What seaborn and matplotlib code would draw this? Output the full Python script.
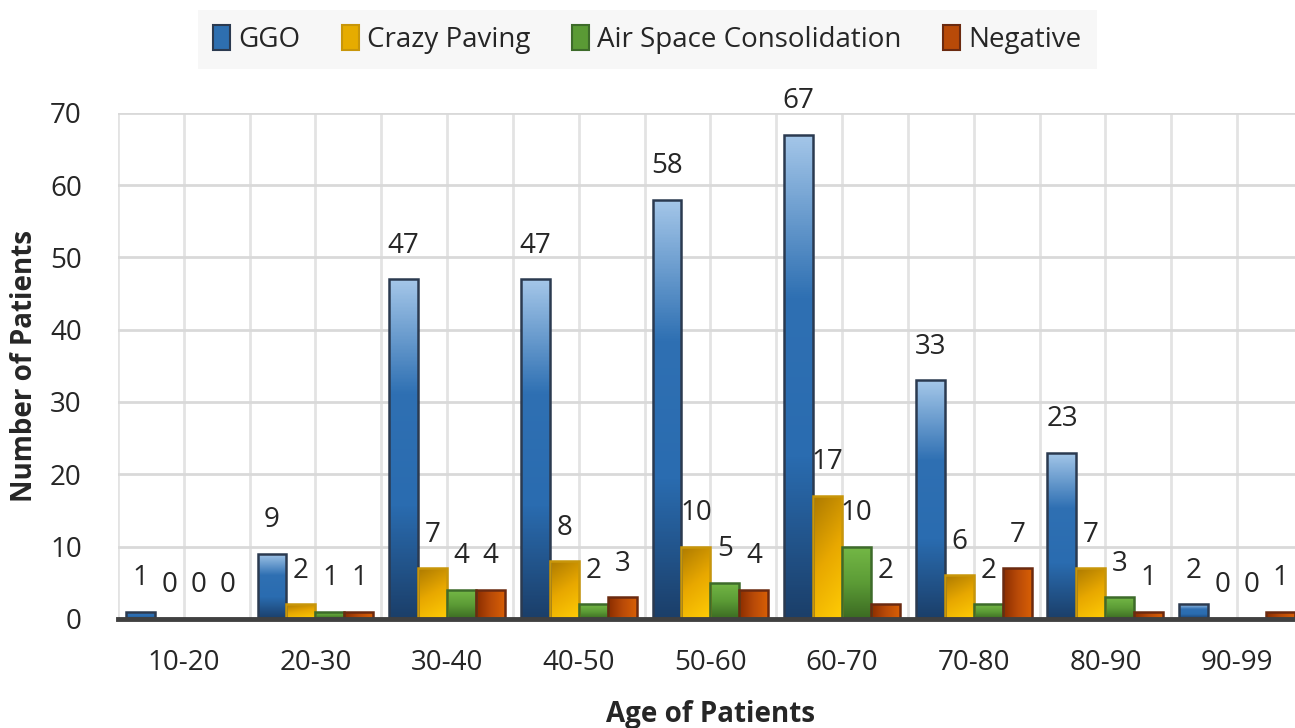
import numpy as np
import pandas as pd
import matplotlib
matplotlib.use("Agg")
import matplotlib.pyplot as plt
import seaborn as sns
from matplotlib.colors import LinearSegmentedColormap
from matplotlib.patches import Patch

# Dados
faixas = ["10-20", "20-30", "30-40", "40-50", "50-60", "60-70", "70-80", "80-90", "90-99"]
ggo = [1, 9, 47, 47, 58, 67, 33, 23, 2]
crazy = [0, 2, 7, 8, 10, 17, 6, 7, 0]
air = [0, 1, 4, 2, 5, 10, 2, 3, 0]
negativo = [0, 1, 4, 3, 4, 2, 7, 1, 1]
series = ["GGO", "Crazy Paving", "Air Space Consolidation", "Negative"]

df = pd.DataFrame({"Faixa": faixas, "GGO": ggo, "Crazy Paving": crazy,
                   "Air Space Consolidation": air, "Negative": negativo})
df_long = df.melt(id_vars="Faixa", var_name="Tipo", value_name="Pacientes")

sns.set_style("white")
plt.rcParams["font.family"] = ["Open Sans", "DejaVu Sans"]

cores = {"GGO": "#2e6fb0", "Crazy Paving": "#e6ac00",
         "Air Space Consolidation": "#5a9a35", "Negative": "#b84a08"}
bordas = {"GGO": "#2b3a50", "Crazy Paving": "#c8960a",
          "Air Space Consolidation": "#3d6b2a", "Negative": "#6b2a10"}
# gradientes (cor inicial -> final) e direção
gradientes = {
    "GGO": (["#1b3f6a", "#2a6cb0", "#2f70b3", "#a3c6e8"], "v"),
    "Crazy Paving": (["#ffcc05", "#e8a800", "#ad7a00"], "d"),
    "Air Space Consolidation": (["#3b6a22", "#5c9c36", "#74b846"], "v"),
    "Negative": (["#8a2d00", "#b84a08", "#d85f05"], "h"),
}

fig = plt.figure(figsize=(12.95, 7.28), dpi=100)
ax = fig.add_axes([0.0911, 0.150, 0.915, 0.695])

sns.barplot(data=df_long, x="Faixa", y="Pacientes", hue="Tipo", hue_order=series,
            palette=cores, width=0.88, ax=ax, legend=False)

# gradiente em cada barra
for container, nome in zip(ax.containers, series):
    cols, direcao = gradientes[nome]
    cmap = LinearSegmentedColormap.from_list(nome, cols)
    for barra, valor in zip(container, df[nome]):
        x0, y0 = barra.get_x(), barra.get_y()
        w, h = barra.get_width(), barra.get_height()
        barra.set_edgecolor(bordas[nome])
        barra.set_linewidth(1.8)
        if h > 0:
            if direcao == "v":
                grad = np.linspace(0, 1, 100).reshape(-1, 1)
            elif direcao == "h":
                grad = np.linspace(0, 1, 100).reshape(1, -1)
            else:
                gx, gy = np.meshgrid(np.linspace(0, 1, 30), np.linspace(0, 1, 100))
                grad = 0.75 * gy + 0.25 * (1 - gx)
            img = ax.imshow(grad, cmap=cmap, extent=[x0, x0 + w, y0, y0 + h],
                            origin="lower", aspect="auto", zorder=barra.get_zorder(),
                            interpolation="bilinear")
            img.set_clip_path(barra)
            barra.set_facecolor("none")
            barra.set_zorder(barra.get_zorder() + 0.1)
        ax.annotate(str(valor), (x0 + w / 2, y0 + h), xytext=(0, 14),
                    textcoords="offset points", ha="center", va="bottom",
                    fontsize=20, color="#262626")

ax.set_xlim(-0.5, 8.5)
ax.set_ylim(0, 70)

# grade (linhas verticais a cada meia categoria)
ax.set_yticks(range(0, 71, 10))
ax.set_xticks(np.arange(-0.5, 9, 1.0), minor=True)
ax.grid(True, which="both", axis="x", color="#e3e3e3", linewidth=2)
ax.grid(True, which="major", axis="y", color="#d9d9d9", linewidth=2)
ax.set_axisbelow(True)
for lado in ["top", "right", "left"]:
    ax.spines[lado].set_visible(False)
ax.spines["bottom"].set_color("#404040")
ax.spines["bottom"].set_linewidth(3.5)
ax.tick_params(axis="both", which="both", length=0, labelsize=20, colors="#262626")
ax.tick_params(axis="y", pad=26)
ax.tick_params(axis="x", pad=22)

ax.set_xlabel("Age of Patients", fontsize=20, fontweight="bold", color="#262626", labelpad=16)
ax.set_ylabel("Number of Patients", fontsize=20, fontweight="bold", color="#262626", labelpad=8)

# legenda
handles = [Patch(facecolor=cores[s], edgecolor=bordas[s], linewidth=1.5) for s in series]
leg = fig.legend(handles, series, loc="center", bbox_to_anchor=(0.5, 0.946), ncol=4,
                 fontsize=20, frameon=True, facecolor="#f5f5f5", edgecolor="none",
                 fancybox=False, handlelength=0.6, handleheight=1.0, handletextpad=0.3,
                 columnspacing=1.5, borderpad=0.55)
for t in leg.get_texts():
    t.set_color("#262626")

fig.savefig("out.png", dpi=100)
